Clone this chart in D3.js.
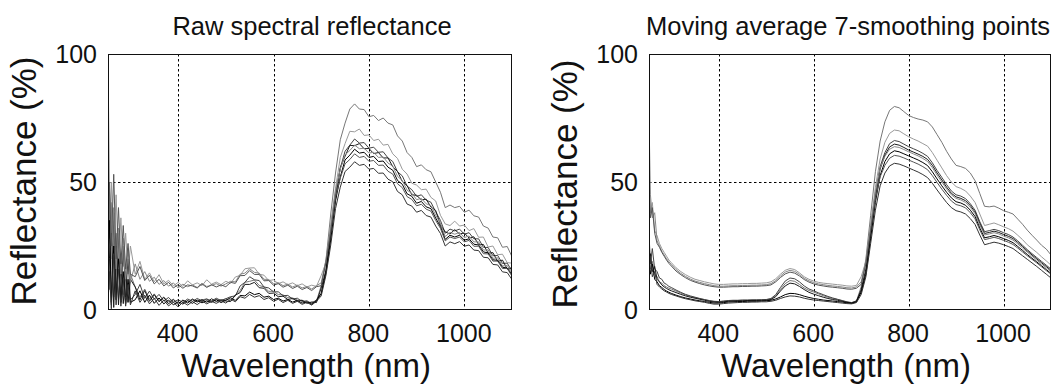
<!DOCTYPE html>
<html><head><meta charset="utf-8">
<script src="https://cdn.jsdelivr.net/npm/d3@7"></script>
<style>
html,body{margin:0;padding:0;background:#fff;}
svg{display:block;font-family:"Liberation Sans",Arial,Helvetica,sans-serif;}
</style></head>
<body>
<script>
// ---------------- data ----------------
const wavelengths = [253,256,260,265,270,275,280,285,290,295,300,
310,320,330,340,350,360,370,380,390,400,
410,420,430,440,450,460,470,480,490,500,
510,520,530,540,550,560,570,580,590,600,
610,620,630,640,650,660,670,680,690,700,
710,720,730,740,750,760,770,780,790,800,
810,820,830,840,850,860,870,880,890,900,
910,920,930,940,950,960,970,980,990,1000,
1010,1020,1030,1040,1050,1060,1070,1080,1090,1100];

const xTicks = [400, 600, 800, 1000];
const yTicks = [0, 50, 100];
const xDomain = [253, 1100];
const yDomain = [0, 100];
const titles = ["Raw spectral reflectance", "Moving average 7-smoothing points"];
const xLabel = "Wavelength (nm)";
const yLabel = "Reflectance (%)";
const seriesColors = ["#777777","#9a9a9a","#444444","#1a1a1a","#888888","#000000","#555555","#333333"];

// raw spectra
const rawA = [35,8,42,5,30,4,22,6,18,3,14,
9,5,8.2,4.2,6.3,3.6,5.1,3.2,4.2,2.6,
3.8,3.1,4.3,3.3,3.9,4.4,3.4,4.2,3.6,4.4,
3.6,5.9,7.6,10.8,11.2,11.7,9.6,9,7.3,7.3,
6,5.9,4.8,4.7,3.9,3.8,2.9,3,3.4,9.5,
19.5,37.5,53.5,66.5,73,78.5,80.5,78.5,78.3,75.5,
76,74,75,73,72.3,68,66,61.5,59.6,56,
56.7,54.8,54,50,46,40,41,40,40.5,38.2,
39,36.8,36.3,32.8,32,28.5,28.2,24.5,24.8,20.8];
const rawB = [55,28,50,22,45,18,36,17,30,14,25,
14,19,12,14.5,11,13.8,10.2,11.6,9.4,10.8,
9.2,11.4,9.8,10.6,9.5,11.8,10.1,10.9,9.9,11.2,
10.4,12.9,13.5,16.1,16.4,16.5,14,13.6,11.5,11.8,
10.3,11,9.9,10.6,9.5,10.2,9,9.7,9.2,13.5,
18.5,33.5,47.5,59.6,65,69.8,69.6,70.7,68.2,68.4,
66.2,66.7,64.4,64.7,61,59.2,55,53.1,49.5,48.8,
47,47.2,44,42.6,37,33.6,33,34.7,32.8,33.2,
31,31.8,28.4,28.5,24.6,25,21.6,21.8,18.5,18.3];
const rawC = [10,48,2,38,6,30,3,25,5,20,4,
6,10,4.5,7.4,4.2,6.1,3.5,4.9,3,4,
3,4.3,3.4,4.5,3.6,4.2,3.5,4.6,3.7,4.4,
5.2,5.5,9.4,10.8,13,11.8,11.5,9,8.6,7.1,
7.1,5.6,5.7,4.3,4.6,3.3,3.6,2.5,4,6.5,
15.6,29.4,45.6,55.4,62,64.4,66.8,65.2,65.4,63.2,
63.6,61.6,61.8,59.4,58,54,52.4,48.4,47,44.4,
45,42.9,42.1,38.4,35,30,31.6,30.9,31.6,29.6,
30.2,27.8,27.8,24.5,24.4,21.2,21.3,18.2,18.3,15.2];
const rawD = [4,20,30,1,25,2,19,2.5,15,3,12,
9,4,7.6,3.4,6,3.2,4.9,2.4,4.1,2.1,
3.9,2.7,4.2,3.1,4.1,3,4.4,3.3,4,3.5,
3.3,5.8,6.8,10,10,10.8,8.7,8.5,6.5,6.6,
5.2,5.4,4.1,4.5,3.4,3.8,2.6,3.1,2.9,8.6,
15.4,30.6,43.4,55.6,60,64.3,64.2,65,63,63.1,
61.1,61.5,59.4,59.4,56,54.1,50.2,48.6,45,44.8,
43,43.3,40.2,38.9,33.2,30.5,29.7,31.4,29.7,30.1,
28.1,28.6,25.6,25.6,22.2,22.4,19,19.5,16,16.5];
const rawE = [100,45,20,40,16,32,14,28,12,24,11,
18,12,15,11.2,12.8,10,11.5,9.3,10.6,8.6,
10.1,9.1,9.8,8.8,10.4,9.2,9.6,10.3,9.3,10.2,
11.2,11,14,14.4,16.1,14.7,14.4,12,11.9,10.3,
10.7,9.5,10.1,9,9.7,8.6,9.2,8.2,9.5,10.6,
19.6,32.4,46.6,55,60.6,62.3,64.4,63,63.2,61.3,
61.6,59.6,59.8,57.4,56.2,52.2,50.6,46.8,45.6,43.1,
43.6,41.5,40.8,37,33.8,28.7,30.3,29.6,30.3,28.3,
28.9,26.6,26.6,23.4,23.5,20.2,20.4,17.2,17.4,14.2];
const rawF = [8,35,3,25,4,20,3,15,2.5,12,3,
4,7.5,3,5.8,2.6,4.7,2.4,3.9,2,3.2,
2.3,3.7,2.6,3.9,2.8,3.6,3,4,2.9,3.8,
4.8,3.7,5.7,5.5,7,6,6.5,5,5.4,4.1,
4.6,3.5,4.1,3.1,3.7,2.7,3.2,2.2,3.6,6.4,
14.6,27.4,42.6,52,58.6,60.5,62.8,61.3,61.6,59.6,
60,58,58.2,55.8,54.6,50.6,49.1,45.4,44.4,41.7,
42.4,40.3,39.6,35.9,32.6,27.6,29.2,28.5,29.2,27.3,
27.8,25.7,25.4,22.7,22.3,19.6,19.4,16.7,16.4,13.7];
const rawG = [30,50,25,53,20,40,18,33,16,26,14,
13,17,11.5,13.6,10.2,12,9.4,10.8,8.6,9.9,
8.5,9.8,9.4,8.6,10.2,8.8,9.9,9,9.8,9.1,
10.8,10.4,13.4,13.5,15.4,13.9,13.9,11.4,11.5,9.7,
10.3,8.9,9.7,8.4,9.3,8,8.8,7.6,9.1,9.5,
18.6,30.5,44.1,51.5,57.1,58.8,61,59.6,60,58.1,
58.4,56.5,56.6,54.2,53.1,49.3,47.8,44.3,43.2,40.7,
41.3,39.4,38.6,35,31.9,27,28.5,27.9,28.5,26.6,
27.2,24.9,24.9,22,21.9,19.1,19.1,16.2,16.2,13.2];
const rawH = [2,15,0.5,22,2,16,1.5,12,1.5,10,2,
7.5,3,5.8,2.4,4.6,1.8,3.9,1.6,3.1,1.2,
3.1,1.9,3.3,2.1,3.5,2.4,3.4,2.6,3.6,2.7,
4.2,3.2,5.2,4.6,6.1,5,5.6,4.1,4.8,3.4,
4.2,2.9,3.8,2.6,3.4,2.2,3,1.9,3.4,5.5,
13.6,25.4,39.6,48,54.1,55.8,57.9,56.5,56.9,55,
55.3,53.4,53.5,51.1,50.1,46.3,45,41.4,40.6,38.2,
38.9,36.9,36.3,32.8,29.9,25,26.6,25.9,26.7,24.9,
25.4,23.4,23.2,20.6,20.4,17.8,17.6,14.9,14.6,11.9];

// smoothed spectra (moving average, 7 points)
const smoothA = [22,16,19,14,13,11,10.5,9.5,9,8.5,8.2,
7.4,6.6,5.9,5.3,4.8,4.4,4.0,3.6,3.3,3.2,
3.4,3.6,3.7,3.7,3.8,3.8,3.8,3.9,3.9,4.0,
4.3,5.5,8.0,10.3,11.5,11.2,10.0,8.6,7.6,7.0,
6.3,5.6,5.0,4.5,4.1,3.6,3.1,2.8,3.5,9,
20,37,54,66,73.5,78,79.5,79,77.5,76,
75.2,74.6,74.2,73.5,71.5,68.5,65.5,62,59,56.5,
56,55.3,53.5,50.5,45.5,40.5,40.3,40.6,39.8,38.8,
38.2,37.5,35.5,33.5,31.2,29.2,27.3,25.3,23.8,21.5];
const smoothB = [55,38,42,31,29,26,24,22.5,21,19.5,18.5,
16.5,15,13.8,12.8,12,11.5,11,10.6,10.2,10,
10,10.1,10.2,10.2,10.3,10.3,10.4,10.4,10.5,10.6,
11,12.2,14,15.5,16.2,15.8,14.5,13,12,11.3,
10.8,10.5,10.3,10.1,9.9,9.7,9.4,9.3,9.6,13,
19,33,48,59,65.5,69,70.3,70,68.8,67.7,
66.8,66,65,64,61.5,58.5,55.5,52.5,50,48.2,
47.5,46.5,44.5,42,37.5,33,33.5,34,33.3,32.5,
31.8,30.8,29.2,27.5,25.5,24,22.5,20.8,19.2,17.5];
const smoothC = [30,18,24,16,15,12.5,12,10.5,10,9.2,8.8,
7.8,6.9,6.1,5.5,5,4.5,4.1,3.7,3.4,3.3,
3.5,3.7,3.8,3.8,3.9,3.9,4.0,4.0,4.0,4.1,
4.5,6,8.8,11.3,12.5,12.2,11,9.4,8.2,7.5,
6.7,6,5.3,4.7,4.2,3.7,3.2,2.9,3.6,7,
15,30,45,56,61.5,65,66.2,65.8,64.8,63.8,
63,62.2,61.2,60,57.5,54.5,51.8,49,46.5,45,
44.5,43.5,41.5,39,34.5,30.6,31,31.5,31,30.2,
29.5,28.5,27,25.3,23.6,22,20.5,19,17.5,16];
const smoothD = [18,22,15,17,12,11,9.8,9,8.4,7.9,7.5,
6.8,6.1,5.5,5,4.6,4.2,3.8,3.4,3.1,3,
3.2,3.4,3.5,3.6,3.6,3.7,3.7,3.7,3.8,3.8,
4.1,5.2,7.4,9.4,10.5,10.2,9.2,8,6.9,6.2,
5.6,5,4.5,4.1,3.8,3.4,3,2.7,3.3,8,
16,30,44,55,60.5,63.7,64.8,64.4,63.5,62.5,
61.7,60.9,60,58.8,56.5,53.5,50.8,48,45.6,44.2,
43.6,42.7,40.8,38.3,33.8,29.9,30.3,30.8,30.3,29.5,
28.8,27.9,26.4,24.8,23.1,21.5,20,18.5,17,15.5];
const smoothE = [75,45,36,38,27,25,23,21.5,20,18.8,17.8,
15.8,14.3,13.1,12.1,11.3,10.8,10.3,9.9,9.5,9.3,
9.3,9.4,9.5,9.5,9.6,9.6,9.7,9.7,9.8,9.9,
10.3,11.5,13.3,14.8,15.5,15.1,13.9,12.4,11.4,10.7,
10.2,9.9,9.6,9.4,9.2,9,8.7,8.6,9,11,
19,33,46,55.5,60,62.8,63.8,63.5,62.7,61.8,
61,60.2,59.2,58,55.6,52.7,50,47.3,45,43.6,
43,42,40.2,37.6,33.2,29.3,29.7,30.2,29.7,28.9,
28.2,27.3,25.8,24.2,22.6,21,19.5,18,16.5,15];
const smoothF = [20,14,18,12,11,9.5,8.8,8,7.4,6.9,6.5,
5.8,5.2,4.7,4.3,3.9,3.6,3.3,3,2.7,2.7,
2.9,3.1,3.2,3.3,3.3,3.4,3.4,3.4,3.5,3.6,
3.8,4.3,5.1,6,6.5,6.4,6,5.4,4.9,4.5,
4.2,3.9,3.7,3.5,3.3,3.1,2.8,2.6,3.1,7,
14,28,42,52.5,58,61,62.2,61.8,61,60.2,
59.4,58.6,57.6,56.4,54,51.2,48.5,46,43.8,42.3,
41.8,40.9,39,36.5,32,28.2,28.6,29.1,28.6,27.9,
27.2,26.3,24.8,23.3,21.7,20.2,18.8,17.3,15.8,14.3];
const smoothG = [48,36,40,30,26,24.5,22.5,21,19.5,18.2,17.2,
15.2,13.8,12.6,11.6,10.9,10.3,9.8,9.4,9.1,8.9,
8.9,9,9.1,9.1,9.2,9.2,9.3,9.3,9.4,9.5,
9.8,11,12.7,14.1,14.8,14.4,13.3,11.9,10.9,10.2,
9.7,9.4,9.1,8.9,8.7,8.5,8.2,8.1,8.5,10,
18,31,43.5,52,56.5,59.3,60.4,60.1,59.4,58.6,
57.8,57,56,54.8,52.5,49.8,47.2,44.8,42.6,41.2,
40.7,39.9,38,35.6,31.3,27.5,27.9,28.4,27.9,27.2,
26.5,25.6,24.2,22.7,21.2,19.8,18.4,16.9,15.4,14];
const smoothH = [16,21,13,15,10,9,8.2,7.5,7,6.5,6.1,
5.5,4.9,4.4,4,3.6,3.3,3,2.6,2.3,2.3,
2.5,2.7,2.8,2.9,3,3,3.1,3.1,3.2,3.2,
3.4,3.8,4.5,5.1,5.5,5.4,5.1,4.6,4.2,3.9,
3.7,3.5,3.3,3.1,2.9,2.7,2.5,2.4,2.9,6,
13,26,39,48.5,53.5,56.3,57.3,57,56.3,55.5,
54.7,53.9,52.9,51.7,49.5,46.9,44.4,42,40,38.8,
38.3,37.5,35.7,33.4,29.3,25.5,26,26.5,26.1,25.5,
24.8,24,22.6,21.2,19.8,18.4,17,15.5,14,12.5];

const rawSeries = [rawA, rawB, rawC, rawD, rawE, rawF, rawG, rawH];
const smoothSeries = [smoothA, smoothB, smoothC, smoothD, smoothE, smoothF, smoothG, smoothH];

// ---------------- drawing ----------------
const W = 1063, H = 388;
const svg = d3.select("body").append("svg").attr("width", W).attr("height", H);

const panels = [
  {x0:108, x1:512, series: rawSeries, title: titles[0], titleX: 312, yLabX: 36, yLabY: 181, xLabX: 306},
  {x0:649, x1:1051, series: smoothSeries, title: titles[1], titleX: 848, yLabX: 577, yLabY: 184, xLabX: 846}
];
const plotTop = 54, plotBottom = 310;

panels.forEach((p, pi) => {
  const x = d3.scaleLinear().domain(xDomain).range([p.x0, p.x1]);
  const y = d3.scaleLinear().domain(yDomain).range([plotBottom, plotTop]);
  const g = svg.append("g");

  const clipId = "clip" + pi;
  svg.append("clipPath").attr("id", clipId).append("rect")
    .attr("x", p.x0).attr("y", plotTop).attr("width", p.x1 - p.x0).attr("height", plotBottom - plotTop);

  // grid
  g.selectAll(".vg").data(xTicks).join("line")
    .attr("x1", d => Math.round(x(d)) + 0.5).attr("x2", d => Math.round(x(d)) + 0.5)
    .attr("y1", plotTop).attr("y2", plotBottom)
    .attr("stroke", "#000").attr("stroke-width", 1).attr("stroke-dasharray", "2.5,2.5");
  g.selectAll(".hg").data([50]).join("line")
    .attr("x1", p.x0).attr("x2", p.x1)
    .attr("y1", d => Math.round(y(d)) + 0.5).attr("y2", d => Math.round(y(d)) + 0.5)
    .attr("stroke", "#000").attr("stroke-width", 1).attr("stroke-dasharray", "2.5,2.5");

  // lines
  const line = d3.line().x((d, i) => x(wavelengths[i])).y(d => y(d));
  g.append("g").attr("clip-path", `url(#${clipId})`)
    .selectAll("path").data(p.series).join("path")
    .attr("d", line)
    .attr("fill", "none")
    .attr("stroke", (d, i) => seriesColors[i])
    .attr("stroke-width", 1)
    .attr("stroke-linejoin", "round");

  // frame
  g.append("rect").attr("x", p.x0 + 0.5).attr("y", plotTop + 0.5)
    .attr("width", p.x1 - p.x0 - 1).attr("height", plotBottom - plotTop - 1)
    .attr("fill", "none").attr("stroke", "#111").attr("stroke-width", 1);

  // axes
  const xa = g.append("g").attr("transform", `translate(0,${plotBottom})`)
    .call(d3.axisBottom(x).tickValues(xTicks).tickSize(0).tickFormat(d3.format("d")));
  xa.select(".domain").remove();
  xa.selectAll("text").attr("y", 32).attr("dy", 0).attr("dx", -1)
    .attr("font-size", 25).attr("fill", "#111")
    .attr("font-family", '"Liberation Sans",Arial,sans-serif');

  const ya = g.append("g").attr("transform", `translate(${p.x0},0)`)
    .call(d3.axisLeft(y).tickValues(yTicks).tickSize(0).tickPadding(11));
  ya.select(".domain").remove();
  ya.selectAll("text").attr("font-size", 25).attr("fill", "#111")
    .attr("font-family", '"Liberation Sans",Arial,sans-serif');

  // titles and labels
  svg.append("text").attr("x", p.titleX).attr("y", 35).attr("text-anchor", "middle")
    .attr("font-size", 25.5).attr("fill", "#111").text(p.title);
  svg.append("text").attr("x", p.xLabX).attr("y", 377).attr("text-anchor", "middle")
    .attr("font-size", 33).attr("fill", "#111").text(xLabel);
  svg.append("text").attr("transform", `translate(${p.yLabX},${p.yLabY}) rotate(-90)`)
    .attr("text-anchor", "middle").attr("font-size", 35).attr("fill", "#111").text(yLabel);
});
</script>
</body></html>
